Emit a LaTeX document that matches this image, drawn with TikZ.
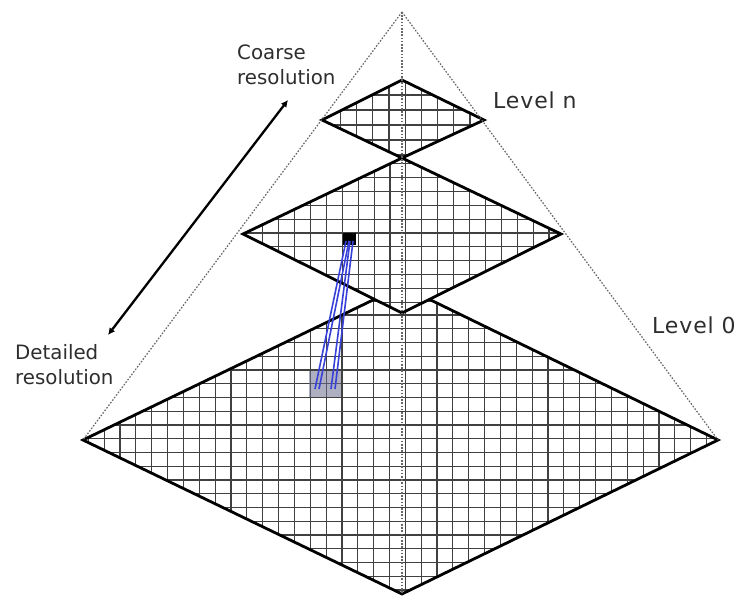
\documentclass[tikz,border=0pt]{standalone}
\usepackage{fontspec}
\setmainfont{DejaVu Sans}
\usetikzlibrary{arrows.meta}
\definecolor{cellgray}{RGB}{110,110,145}
\definecolor{linkblue}{RGB}{55,65,215}
\begin{document}
\begin{tikzpicture}[x=1pt,y=-1pt,
  gridline/.style={line width=1.15pt, black!75},
  outline/.style={line width=2.8pt, black, line join=miter},
  guide/.style={dash pattern=on 1.6pt off 1.6pt, line width=1.2pt, black!60},
  lbl/.style={font=\fontsize{19.8}{25}\selectfont, text=black!82, inner sep=0pt, align=left},
  lvl/.style={font=\fontsize{22}{25}\selectfont\addfontfeature{LetterSpace=4}, text=black!82, inner sep=0pt},
  blueline/.style={line width=1.6pt, draw=linkblue},
  dblarrow/.style={line width=2.3pt, {Latex[length=7pt,width=7pt]}-{Latex[length=7pt,width=7pt]}}]
\useasboundingbox (0,0) rectangle (737,601);
\fill[white] (0,0) rectangle (737,601);
% corners
\coordinate (apex) at (402,12);
\coordinate (bL) at (83,440);  \coordinate (bR) at (718,440);
\coordinate (bT) at (402,286); \coordinate (bB) at (402,594);
\coordinate (mL) at (243,234); \coordinate (mR) at (561,234);
\coordinate (mT) at (402,158); \coordinate (mB) at (402,313);
\coordinate (tL) at (322,120); \coordinate (tR) at (484,120);
\coordinate (tT) at (402,80);  \coordinate (tB) at (402,158);
% level 0
\begin{scope}
\clip (bL)--(bT)--(bR)--(bB)--cycle;
\fill[white] (bL)--(bT)--(bR)--(bB)--cycle;
\foreach \k in {-21,...,21} \draw[gridline] ({389.5+\k*15.85},280) -- ++(0,320);
\foreach \k in {-12,...,13} \draw[gridline] (80,{425+\k*13.75}) -- ++(645,0);
\end{scope}
\draw[outline] (bL)--(bT)--(bR)--(bB)--cycle;
% middle level
\begin{scope}
\clip (mL)--(mT)--(mR)--(mB)--cycle;
\fill[white] (mL)--(mT)--(mR)--(mB)--cycle;
\foreach \k in {-11,...,11} \draw[gridline] ({390+\k*15.9},150) -- ++(0,170);
\foreach \k in {-5,...,6} \draw[gridline] (240,{233+\k*13.9}) -- ++(330,0);
\end{scope}
\draw[outline] (mL)--(mT)--(mR)--(mB)--cycle;
% top level
\begin{scope}
\clip (tL)--(tT)--(tR)--(tB)--cycle;
\fill[white] (tL)--(tT)--(tR)--(tB)--cycle;
\foreach \k in {-6,...,6} \draw[gridline] ({389+\k*16.2},75) -- ++(0,90);
\foreach \k in {-1,...,4} \draw[gridline] (318,{95+\k*15}) -- ++(170,0);
\end{scope}
\draw[outline] (tL)--(tT)--(tR)--(tB)--cycle;
% guides
\draw[guide] (apex) -- (bL);
\draw[guide] (apex) -- (bR);
\draw[guide] (apex) -- (bB);
% cells
\fill[black] (343,233) rectangle (356,245);
\fill[cellgray, opacity=0.55] (309,371) rectangle (341,397);
\coordinate (s1) at (346,241); \coordinate (s2) at (349,241);
\coordinate (s3) at (350,241); \coordinate (s4) at (353,241);
\coordinate (g1) at (315,389); \coordinate (g2) at (319,389);
\coordinate (g3) at (331,389); \coordinate (g4) at (335,389);
\draw[blueline] (s1) -- (g1);
\draw[blueline] (s2) -- (g2);
\draw[blueline] (s3) -- (g3);
\draw[blueline] (s4) -- (g4);
% arrow
\coordinate (ac) at (288,100);
\coordinate (ad) at (108,335);
\draw[dblarrow] (ad) -- (ac);
% labels
\node[lbl, anchor=north west] (coarse) at (237,45) {Coarse\\resolution};
\node[lbl, anchor=north west] (detail) at (15,344) {Detailed\\resolution};
\node[lvl, anchor=north west] (lvn) at (493,92) {Level n};
\node[lvl, anchor=north west] (lv0) at (652,317) {Level 0};
\end{tikzpicture}
\end{document}
